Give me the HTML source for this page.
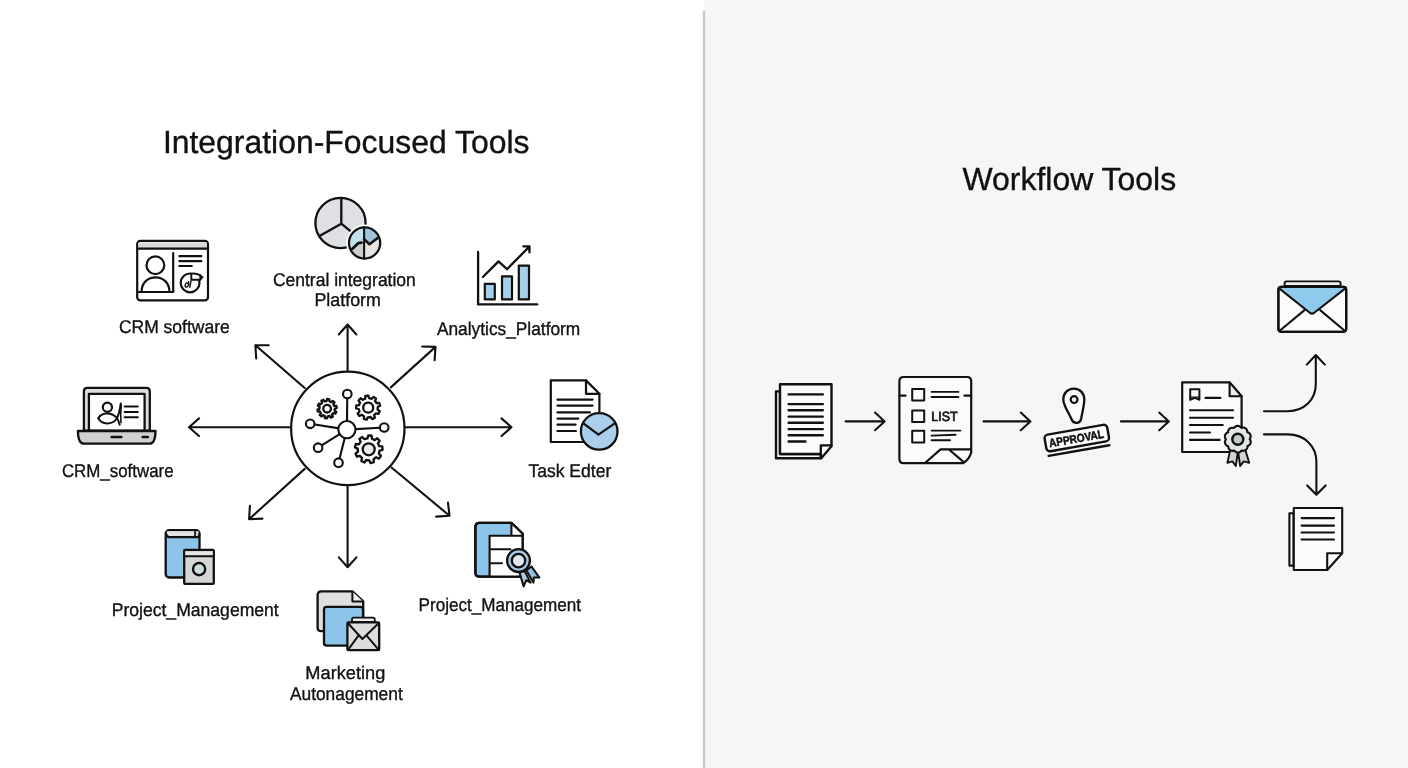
<!DOCTYPE html>
<html><head><meta charset="utf-8">
<style>
html,body{margin:0;padding:0;background:#fff;}
body{width:1408px;height:768px;overflow:hidden;font-family:"Liberation Sans",sans-serif;}
svg{display:block;will-change:transform;}
text{font-family:"Liberation Sans",sans-serif;fill:#111;stroke:#111;stroke-width:0.35;stroke-linejoin:round;text-rendering:geometricPrecision;}
.s{fill:none;stroke:#111;stroke-width:2.2;stroke-linecap:round;stroke-linejoin:round;}
.w{fill:#fff;stroke:#111;stroke-width:2.2;stroke-linecap:round;stroke-linejoin:round;}
.n{fill:none;stroke:#111;stroke-width:2.1;stroke-linecap:round;}
.g{fill:#fff;stroke:#111;stroke-width:2.3;stroke-linejoin:round;}
.r .w{fill:#fbfbfb;}
.a{fill:none;stroke:#111;stroke-width:2.1;stroke-linecap:round;stroke-linejoin:round;}
</style></head><body>
<svg width="1408" height="768" viewBox="0 0 1408 768">
<!-- BACKGROUNDS -->
<rect x="0" y="0" width="1408" height="768" fill="#ffffff"/>
<rect x="704" y="0" width="704" height="768" fill="#f6f6f6"/>
<rect x="702.8" y="11" width="2.4" height="757" fill="#c8c8c8"/>

<!-- TITLES -->
<text x="162.88" y="153" font-size="32" textLength="366.70" lengthAdjust="spacingAndGlyphs">Integration-Focused Tools</text>
<text x="962.43" y="190" font-size="32" textLength="213.74" lengthAdjust="spacingAndGlyphs">Workflow Tools</text>

<!-- LABELS -->
<g font-size="18.4">
<text x="118.88" y="333" textLength="110.83" lengthAdjust="spacingAndGlyphs">CRM software</text>
<text x="272.94" y="286" textLength="142.87" lengthAdjust="spacingAndGlyphs">Central integration</text>
<text x="314.44" y="306" textLength="66.46" lengthAdjust="spacingAndGlyphs">Platform</text>
<text x="436.93" y="335" textLength="143.36" lengthAdjust="spacingAndGlyphs">Analytics_Platform</text>
<text x="61.90" y="477" textLength="111.75" lengthAdjust="spacingAndGlyphs">CRM_software</text>
<text x="528.42" y="477" textLength="82.93" lengthAdjust="spacingAndGlyphs">Task Edter</text>
<text x="111.68" y="616" textLength="167.05" lengthAdjust="spacingAndGlyphs">Project_Management</text>
<text x="418.62" y="611" textLength="162.47" lengthAdjust="spacingAndGlyphs">Project_Management</text>
<text x="305.33" y="679" textLength="80.00" lengthAdjust="spacingAndGlyphs">Marketing</text>
<text x="289.95" y="700" textLength="112.78" lengthAdjust="spacingAndGlyphs">Autonagement</text>
</g>

<!-- HUB ARROWS -->
<g class="a">
<path d="M347.6 370.5V324.5M338.8 334.5L347.6 324.5L356.4 334.5"/>
<path d="M347.600 486.500V567.200M338.800 557.400L347.600 567.200L356.400 557.400"/>
<path d="M289.5 427.2H189M199 418.4L189 427.2L199 436"/>
<path d="M405.6 427.2H511.5M501.5 418.4L511.5 427.2L501.5 436"/>
<path d="M304.7 388L255.4 345.2M256.2 358.5L255.4 345.2L268.7 345.3"/>
<path d="M390.8 387.4L435.5 346.9M422.2 346.5L435.5 346.9L434.6 360.2"/>
<path d="M304.7 468.9L249.1 519.2M249.9 505.9L249.1 519.2L262.4 518.6"/>
<path d="M391.5 467.5L449.5 515.7M436.2 516.6L449.5 515.7L448 502.5"/>
</g>

<!-- HUB -->
<circle cx="347.800" cy="428.400" r="56.700" class="w"/>
<!-- HUB-IN -->
<g class="n">
<path d="M346.9 429.6L347.3 394"/>
<path d="M346.9 429.6L310.2 423.8"/>
<path d="M346.9 429.6L384.2 427.5"/>
<path d="M346.9 429.6L318.1 447.7"/>
<path d="M346.9 429.6L338.5 462.7"/>
<circle cx="346.9" cy="429.6" r="8.6" fill="#fff"/>
<circle cx="347.3" cy="394" r="4.3" fill="#fff"/>
<circle cx="310.2" cy="423.8" r="4.3" fill="#fff"/>
<circle cx="384.2" cy="427.5" r="4.3" fill="#fff"/>
<circle cx="318.1" cy="447.7" r="4.3" fill="#fff"/>
<circle cx="338.5" cy="462.7" r="4.3" fill="#fff"/>
</g>
<path d="M334.6 410.6 L336.3 411.7 L335.4 413.7 L333.4 413.1 L332.0 414.6 L332.8 416.6 L330.8 417.6 L329.6 416.0 L327.6 416.4 L327.0 418.4 L324.9 418.1 L324.8 416.1 L323.0 415.2 L321.4 416.5 L319.7 415.0 L320.9 413.3 L319.9 411.5 L317.9 411.6 L317.4 409.5 L319.4 408.8 L319.6 406.8 L317.9 405.7 L318.8 403.7 L320.8 404.3 L322.2 402.8 L321.4 400.8 L323.4 399.8 L324.6 401.4 L326.6 401.0 L327.2 399.0 L329.3 399.3 L329.4 401.3 L331.2 402.2 L332.8 400.9 L334.5 402.4 L333.3 404.1 L334.3 405.9 L336.3 405.8 L336.8 407.9 L334.8 408.6Z" class="g"/><circle cx="327.1" cy="408.7" r="3.8" class="g"/>
<path d="M377.6 409.7 L379.8 411.1 L378.6 413.9 L376.0 413.3 L374.1 415.3 L374.9 417.8 L372.2 419.1 L370.6 417.0 L367.8 417.3 L366.8 419.7 L363.9 419.0 L364.1 416.4 L361.8 414.8 L359.4 416.0 L357.6 413.6 L359.5 411.7 L358.7 409.0 L356.1 408.4 L356.3 405.4 L358.9 405.2 L360.1 402.6 L358.5 400.5 L360.6 398.3 L362.7 399.8 L365.3 398.6 L365.4 395.9 L368.4 395.6 L369.1 398.1 L371.8 398.8 L373.6 396.9 L376.1 398.6 L375.0 401.0 L376.7 403.2 L379.3 402.9 L380.1 405.8 L377.8 406.9Z" class="g"/><circle cx="368.2" cy="407.7" r="5.0" class="g"/>
<path d="M378.8 453.7 L381.0 455.8 L379.0 458.7 L376.2 457.3 L373.6 459.2 L373.9 462.2 L370.5 463.1 L369.3 460.3 L366.1 460.0 L364.4 462.5 L361.3 461.0 L362.1 458.1 L359.8 455.8 L356.9 456.7 L355.5 453.5 L358.0 451.8 L357.7 448.6 L354.9 447.4 L355.8 444.0 L358.9 444.3 L360.7 441.7 L359.4 439.0 L362.3 437.0 L364.4 439.2 L367.5 438.4 L368.2 435.4 L371.7 435.7 L371.9 438.8 L374.8 440.1 L377.3 438.3 L379.7 440.8 L377.9 443.3 L379.3 446.2 L382.3 446.4 L382.6 449.9 L379.6 450.6Z" class="g"/><circle cx="368.7" cy="449.3" r="6.0" class="g" style="fill:#ebebeb"/>
<!-- ICONS-LEFT -->
<!-- CRM software (browser card) -->
<g>
<rect x="137.2" y="240.8" width="70.8" height="59.6" rx="3.2" class="w"/>
<path d="M138.4 242.4H206.8V248.2H138.4Z" fill="#d8d8d8"/>
<path d="M137.4 248.6H207.8" class="s"/>
<path d="M173.2 253.2V292H137.6" class="s"/>
<circle cx="155.4" cy="265.2" r="8.9" class="s"/>
<path d="M141.6 291.6C141.6 272.6 169.4 272.6 169.4 291.6" class="s"/>
<path d="M179.300 256.100H201.400M179.300 261.100H201.400M179.300 266H191.800" class="s" style="stroke-width:2.1"/>
<circle cx="190.100" cy="282.900" r="9.400" class="s"/>
<path d="M191.300 279.700V273.600C194.800 273.200 198 274 200.200 275.200L200.600 279.700Z" fill="#fff" stroke="#111" stroke-width="1.900" stroke-linejoin="round"/>
<path d="M200 274.900L203.300 277.100L200.500 279.900Z" fill="#111" stroke="#111" stroke-width="1" stroke-linejoin="round"/>
<path d="M187.800 283.400C185.600 281.800 183.900 286.600 186.200 287C188.200 287.300 189 284.200 188.600 281.800M191 280.800L189.800 287.400" class="s" style="stroke-width:1.4"/>
</g>

<!-- Central integration pies -->
<g>
<circle cx="340.500" cy="223" r="25.100" fill="#dfe0e4" stroke="#111" stroke-width="2.300"/>
<path d="M341.300 223.700V198M341.300 223.700L319.900 235.800M341.300 223.700L351.400 231.800" class="s" style="stroke-width:2.3"/>
<circle cx="364.600" cy="243" r="18.400" fill="#fff"/>
<circle cx="364.600" cy="243" r="15.600" fill="#e6e4e2"/>
<path d="M364.100 227.400A15.600 15.600 0 0 0 351.900 249.100L358.400 243L364.100 242.600Z" fill="#c4e2ee"/>
<path d="M364.100 227.400A15.600 15.600 0 0 1 378 237.800L369.500 244.200L364.100 239.200Z" fill="#a4c4d9"/>
<path d="M351.900 249.100L358.400 243L364.100 242.600V258.600A15.600 15.600 0 0 1 351.900 249.100Z" fill="#cfcfcf"/>
<circle cx="364.600" cy="243" r="15.600" class="s" style="stroke-width:2.3"/>
<path d="M364.100 227.600V258.400" class="s" style="stroke-width:2.1"/>
<path d="M352.400 248.700L358.400 243.100L361.400 242.700" class="s" style="stroke-width:2.8"/>
<path d="M364.100 239.200L369.500 244.200L377.600 238" class="s" style="stroke-width:2.6"/>
</g>

<!-- Analytics chart -->
<g>
<rect x="484.800" y="283.800" width="10" height="15.600" fill="#a7cfea" stroke="#111" stroke-width="2.2" stroke-linejoin="round"/>
<rect x="502" y="276.400" width="10" height="23" fill="#a7cfea" stroke="#111" stroke-width="2.2" stroke-linejoin="round"/>
<rect x="518.800" y="265.600" width="10.200" height="33.800" fill="#a7cfea" stroke="#111" stroke-width="2.2" stroke-linejoin="round"/>
<path d="M478.100 252V304.400H537.300" class="s" style="stroke-width:2.3"/>
<path d="M482.900 277L498.500 261.400L507 269.200L529.200 246.800M523.400 246.400H529.500V252.400" class="s" style="stroke-width:2.3"/>
</g>

<!-- Laptop -->
<g>
<path d="M83.900 430.600V391.300Q83.900 387.800 87.400 387.800H146.300Q149.800 387.800 149.800 391.300V430.600Z" fill="#dedede" stroke="#111" stroke-width="2.300" stroke-linejoin="round"/>
<rect x="88.900" y="393.900" width="55.700" height="36.700" class="w" style="stroke-width:2.3"/>
<path d="M77.900 431H155.500Q155.500 443.700 149.300 443.700H84.300Q77.900 443.700 77.900 431Z" fill="#d0d0d0" stroke="#111" stroke-width="2.300" stroke-linejoin="round"/>
<path d="M111.600 437H121.400M142.600 437H148" class="s" style="stroke-width:2.4"/>
<path d="M124.600 406.600H137.800M124.600 411.900H137.800M124.600 417.200H137.800" class="s" style="stroke-width:2"/>
<circle cx="107.400" cy="407.300" r="4.600" class="s" style="stroke-width:2.2"/>
<path d="M98.300 418.300C101.500 412.200 111 411.800 116.500 417.500C118 419.500 119 422 119.700 424.700" class="s" style="stroke-width:2"/>
<path d="M98.300 418.300C102 425 112 425 116.500 419C119 415 120 409 120.800 403.500" class="s" style="stroke-width:2"/>
<path d="M121.300 405C120.600 411 120.600 418 121 422.600" class="s" style="stroke-width:1.6"/>
</g>

<!-- Task Editor: doc + blue clock/mail -->
<g>
<path d="M550.8 380.4H586L599.4 393.8V442H550.8Z" class="w"/>
<path d="M586 380.4V393.8H599.4" class="s"/>
<path d="M557.4 399.6H592.6M557.4 405.6H592.6M557.4 412.4H590M557.4 418.6H578.4M557.4 424.6H575.6M557.4 431H576" class="s" style="stroke-width:2.1"/>
<circle cx="599.2" cy="431.4" r="18.3" fill="#aacfec" stroke="#111" stroke-width="2.3"/>
<path d="M583.4 423.4L598.4 434.6L614.4 423.6" class="s" style="stroke-width:2.3"/>
</g>

<!-- Project Management (left): blue book + grey box -->
<g>
<rect x="165.700" y="530.200" width="33.800" height="47.300" rx="3.400" fill="#8dc4ea" stroke="#111" stroke-width="2.300"/>
<path d="M166.800 531.300H198.400V534.400L197.400 537.100H168.700L166.800 534.400Z" fill="#e4e4e4"/>
<path d="M195.200 531.300H198.400V534.600L196.800 537Z" fill="#c3cbd2"/>
<path d="M165.900 533.300C166.300 535.600 167.300 537.100 169.300 537.100H197.300C198.500 537.100 199.300 535.800 199.400 534.200" class="s" style="stroke-width:2.1"/>
<path d="M195 530.600V537" class="s" style="stroke-width:1.7"/>
<rect x="184.200" y="550" width="29.600" height="33.800" rx="0.800" fill="#d6d6d6" stroke="#111" stroke-width="2.300" stroke-linejoin="round"/>
<path d="M185.400 551.200H212.600V555.400H185.400Z" fill="#e6e6e6"/>
<path d="M184.400 556.300H213.600" class="s" style="stroke-width:2.1"/>
<circle cx="199.100" cy="569.100" r="6.100" fill="#cddde2" stroke="#111" stroke-width="2.400"/>
</g>

<!-- Marketing: grey doc + blue sheet + envelope -->
<g>
<path d="M321.4 591.4H352.4L363.2 601.4V627.200Q363.200 631.200 359.400 631.200H321.400Q317.600 631.200 317.600 627.200V595.400Q317.600 591.400 321.400 591.400Z" fill="#dfdfdf" stroke="#111" stroke-width="2.3" stroke-linejoin="round"/>
<path d="M352.400 591.600V601.400H363" fill="#f2f2f2" stroke="#111" stroke-width="2" stroke-linejoin="round"/>
<rect x="324" y="606.8" width="39" height="38.800" rx="2.6" fill="#8dc4ea" stroke="#111" stroke-width="2.3"/>
<path d="M352 622V619.400Q352 617.600 353.800 617.600H373Q374.800 617.600 374.800 619.400V622Z" fill="#ececec" stroke="#111" stroke-width="1.8" stroke-linejoin="round"/>
<rect x="347.400" y="622.400" width="31.800" height="27.800" rx="1.200" fill="#dddddd" stroke="#111" stroke-width="2.3" stroke-linejoin="round"/>
<path d="M347.800 623L362.400 639L378.800 623M348 649.800L358.800 635.200M378.800 649.800L366.200 635.200" class="s" style="stroke-width:2"/>
</g>

<!-- Project Management (right): blue doc + ribbon -->
<g>
<path d="M479.600 522.800H511.400L522.600 533.600V572.400Q522.600 576.600 518.400 576.600H479.600Q475.400 576.600 475.400 572.400V527Q475.400 522.800 479.600 522.800Z" fill="#8dc4ea" stroke="#111" stroke-width="2.3" stroke-linejoin="round"/>
<path d="M511.400 523V535.800H522.400V576.400H489.600V535.800H511.400Z" fill="#fff"/>
<path d="M511.400 523.200L522.400 533.800V535.800H511.400Z" fill="#fff"/>
<path d="M511.400 523V535.800H522.400M489.600 576.400V535.800H511.400M489.600 549.200H510.400M489.600 563.300H502" class="s" style="stroke-width:2.1"/>
<path d="M479.600 522.800H511.400L522.600 533.600V572.400Q522.600 576.600 518.400 576.600H479.600Q475.400 576.600 475.400 572.400V527Q475.400 522.800 479.600 522.800Z" class="s" style="stroke-width:2.3"/>
<path d="M519.300 571.600L523.600 586.400L526.300 580.200L530.600 582.600L524.800 571.400Z" fill="#a9cbe4" stroke="#111" stroke-width="2" stroke-linejoin="round"/>
<path d="M526.400 570.600L533.400 582.600L533.900 577.600L539.400 577.600L531.400 566.400Z" fill="#8fc0e0" stroke="#111" stroke-width="2" stroke-linejoin="round"/>
<circle cx="518.500" cy="560.600" r="11.400" fill="#a8c8e6" stroke="#111" stroke-width="2.300"/>
<circle cx="518.500" cy="560.600" r="6.700" fill="#e0e6ef" stroke="#111" stroke-width="2.300"/>
</g>

<!-- ICONS-RIGHT --><g class="r">
<!-- doc stack 1 -->
<g>
<path d="M776 391.400H780V454H821V458.200H776Z" class="w" style="stroke-width:2.4"/>
<path d="M780 384.200H831.500V446.200L821.200 458.200L820.800 454H780Z" class="w" style="stroke-width:2.4"/>
<path d="M820.800 456.800V445.400H831.200" class="s" style="stroke-width:2.3"/>
<path d="M788.600 394.400H822.800M788.600 404.100H822.800M788.600 410.200H822.800M788.600 416.600H822.800M788.600 422.800H822.800M788.600 429.100H822.800M788.600 435.300H822.800M788.600 441.500H805.400" class="s" style="stroke-width:2.4"/>
</g>
<!-- flow arrows -->
<g class="a">
<path d="M845.600 421.400H884.600M875 412.600L884.600 421.400L875 430.200"/>
<path d="M983.600 421.400H1030.400M1020.800 412.600L1030.400 421.400L1020.800 430.200"/>
<path d="M1121 421.400H1168.800M1159.200 412.600L1168.800 421.400L1159.200 430.200"/>
<path d="M1264 411.200H1288C1304 411.200 1315.800 400 1315.800 384V355.200M1306.800 364.600L1315.800 355L1324.800 364.600"/>
<path d="M1264 434.400H1288C1304.400 434.400 1316.400 446 1316.400 462V494.600M1307.200 485.400L1316.400 494.800L1325.600 485.400"/>
</g>
<!-- LIST icon -->
<g>
<path d="M903.600 377H967Q971.200 377 971.200 381.200V452.500Q969.500 459 963.200 463.200H903.600Q899.400 463.200 899.400 459V381.200Q899.400 377 903.600 377Z" class="w"/>
<path d="M899.600 395.600H905.600M964.400 395.600H971" class="s"/>
<rect x="912.200" y="389" width="12" height="11.600" class="s" style="stroke-width:2"/>
<rect x="912.200" y="410.400" width="12" height="11.600" class="s" style="stroke-width:2"/>
<rect x="912.200" y="430.800" width="12" height="11.600" class="s" style="stroke-width:2"/>
<path d="M931.600 391.900H958.400M931.600 397H958.400" class="s" style="stroke-width:1.9"/>
<path d="M931.600 430.600H960.400M931.600 435.600L955.600 434.800M931.600 440.200H950" class="s" style="stroke-width:1.9"/>
<text x="931.3" y="421.300" font-size="13.400" style="stroke-width:0.7" textLength="26.400" lengthAdjust="spacingAndGlyphs">LIST</text>
<path d="M925 463L940.600 449.400H971M949.600 450L963.200 461.600" class="s"/>
</g>
<!-- APPROVAL stamp -->
<g>
<path d="M1073.800 388.700C1080.300 388.700 1084.300 393.500 1084.300 399.500C1084.300 405 1082.300 412 1081.200 418.500C1080.600 421.600 1079 422.800 1076.400 422.800C1073.800 422.800 1072.400 421.600 1071.400 419C1069 413 1063.300 405.500 1063.300 399.500C1063.300 393.500 1067.300 388.700 1073.800 388.700Z" class="w" style="stroke-width:2.3"/>
<circle cx="1074.100" cy="399.600" r="3.400" class="s" style="stroke-width:2.2"/>
<g transform="rotate(-10 1077 438)">
<rect x="1045" y="429.600" width="63.600" height="16.800" rx="3.600" class="w" style="stroke-width:2.4"/>
<text x="1048.600" y="442.500" font-size="11.600" font-weight="bold" style="stroke-width:0.5" textLength="55.400" lengthAdjust="spacingAndGlyphs">APPROVAL</text>
<path d="M1046 450.700H1107.600" class="s" style="stroke-width:2.5"/>
</g>
</g>
<!-- Certificate -->
<g>
<path d="M1182.200 382.400H1229.600L1241.600 396.200V452H1182.200Z" class="w"/>
<path d="M1229.600 382.400V396.200H1241.600Z" fill="#ececec" stroke="#111" stroke-width="2.100" stroke-linejoin="round"/>
<path d="M1190.200 399.800V389.200H1199.400V399.800L1194.800 397.900Z" class="s" style="stroke-width:2"/><path d="M1190.200 397.200H1199.400" class="s" style="stroke-width:1.2"/>
<path d="M1205.400 397.900H1220.400M1190 410.300H1233M1190 417.800H1233M1190 425H1222.800M1190 432.500H1210M1190 439.900H1219.600" class="s" style="stroke-width:2.100"/>
<path d="M1230.400 449.400L1227.400 462.800L1232.400 461.400L1235.800 466L1238 451Z" fill="#d0d3d3" stroke="#111" stroke-width="1.900" stroke-linejoin="round"/>
<path d="M1245.200 449.400L1249.200 462.800L1243.800 461.400L1240.200 466L1238 451Z" fill="#d0d3d3" stroke="#111" stroke-width="1.900" stroke-linejoin="round"/>
<path d="M1249.7 439.2 L1250.2 439.8 L1250.4 440.3 L1250.6 440.9 L1250.7 441.5 L1250.7 442.2 L1250.7 442.7 L1250.5 443.3 L1250.3 443.9 L1249.9 444.4 L1249.5 444.8 L1249.1 445.3 L1248.5 445.6 L1247.9 445.9 L1247.4 446.2 L1247.5 446.9 L1247.4 447.6 L1247.2 448.1 L1246.9 448.7 L1246.5 449.2 L1246.1 449.6 L1245.6 450.0 L1245.1 450.3 L1244.6 450.5 L1244.0 450.7 L1243.4 450.7 L1242.7 450.7 L1242.1 450.5 L1241.5 450.5 L1241.1 451.1 L1240.6 451.6 L1240.1 451.9 L1239.6 452.2 L1239.0 452.4 L1238.4 452.5 L1237.8 452.5 L1237.2 452.5 L1236.6 452.3 L1236.1 452.1 L1235.5 451.8 L1235.0 451.4 L1234.6 450.9 L1234.1 450.5 L1233.5 450.8 L1232.8 450.9 L1232.2 450.9 L1231.6 450.8 L1231.0 450.6 L1230.5 450.3 L1230.0 450.0 L1229.5 449.6 L1229.1 449.1 L1228.8 448.6 L1228.6 448.0 L1228.4 447.4 L1228.3 446.7 L1228.2 446.2 L1227.5 446.0 L1226.9 445.7 L1226.4 445.3 L1226.0 444.9 L1225.6 444.4 L1225.3 443.9 L1225.1 443.3 L1225.0 442.7 L1224.9 442.1 L1225.0 441.5 L1225.1 440.9 L1225.4 440.3 L1225.7 439.7 L1225.9 439.2 L1225.4 438.6 L1225.2 438.1 L1225.0 437.5 L1224.9 436.9 L1224.9 436.2 L1224.9 435.7 L1225.1 435.1 L1225.3 434.5 L1225.7 434.0 L1226.1 433.6 L1226.5 433.1 L1227.1 432.8 L1227.7 432.5 L1228.2 432.2 L1228.1 431.5 L1228.2 430.8 L1228.4 430.3 L1228.7 429.7 L1229.1 429.2 L1229.5 428.8 L1230.0 428.4 L1230.5 428.1 L1231.0 427.9 L1231.6 427.7 L1232.2 427.7 L1232.9 427.7 L1233.5 427.9 L1234.1 427.9 L1234.5 427.3 L1235.0 426.8 L1235.5 426.5 L1236.0 426.2 L1236.6 426.0 L1237.2 425.9 L1237.8 425.9 L1238.4 425.9 L1239.0 426.1 L1239.5 426.3 L1240.1 426.6 L1240.6 427.0 L1241.0 427.5 L1241.5 427.9 L1242.1 427.6 L1242.8 427.5 L1243.4 427.5 L1244.0 427.6 L1244.6 427.8 L1245.1 428.1 L1245.6 428.4 L1246.1 428.8 L1246.5 429.3 L1246.8 429.8 L1247.0 430.4 L1247.2 431.0 L1247.3 431.7 L1247.4 432.2 L1248.1 432.4 L1248.7 432.7 L1249.2 433.1 L1249.6 433.5 L1250.0 434.0 L1250.3 434.5 L1250.5 435.1 L1250.6 435.7 L1250.7 436.3 L1250.6 436.9 L1250.5 437.5 L1250.2 438.1 L1249.9 438.7 L1249.7 439.2Z" fill="#e2e5e5" stroke="#111" stroke-width="2.1" stroke-linejoin="round"/>
<circle cx="1237.800" cy="439.200" r="5.500" fill="#c3cccc" stroke="#111" stroke-width="2.400"/>
</g>
<!-- Envelope -->
<g>
<path d="M1284.600 286V283.400Q1284.600 281.400 1286.600 281.400H1338.600Q1340.600 281.400 1340.600 283.400V286Z" class="s" style="stroke-width:1.900;fill:#f1f1f1"/>
<rect x="1278.400" y="286.800" width="67.800" height="45" rx="3" class="w"/>
<path d="M1279.600 288L1309.800 312.800Q1312 314.600 1314.200 312.800L1345 288Z" fill="#8fc9eb"/>
<path d="M1279.200 288.400L1309.800 312.800Q1312 314.600 1314.200 312.800L1345.400 288.400M1279.400 331L1304.200 310.400M1345 331L1320.400 310.400" class="s" style="stroke-width:2.100"/>
<rect x="1278.400" y="286.800" width="67.800" height="45" rx="3" class="s"/>
</g>
<!-- doc stack 2 -->
<g>
<path d="M1289.400 513.200H1293.600V565.600H1289.400Z" class="w" style="stroke-width:2.100"/>
<path d="M1293.800 508H1342.200V553.200L1327.200 570H1293.800Z" class="w" style="stroke-width:2.100"/>
<path d="M1327.200 570V553.200H1342.200" class="s" style="stroke-width:2.100"/>
<path d="M1301.600 518.100H1334M1301.600 525.600H1334M1301.600 532.500H1334M1301.600 539.500H1334" class="s" style="stroke-width:2.100"/>
</g>

</g>
</svg>
</body></html>
